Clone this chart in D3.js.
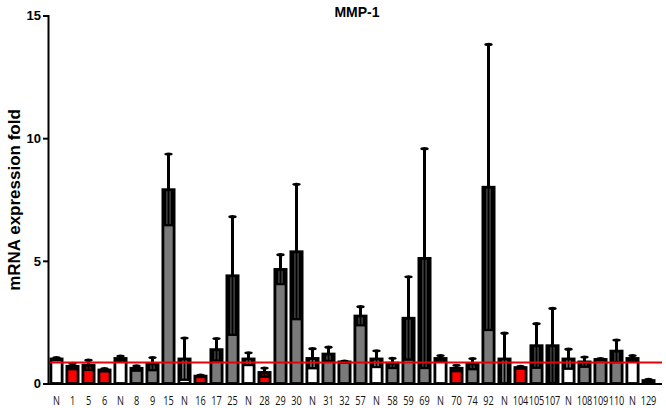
<!DOCTYPE html>
<html>
<head>
<meta charset="utf-8">
<script src="https://cdn.jsdelivr.net/npm/d3@7"></script>
<style>
  body { margin: 0; background: #fff; }
  svg { display: block; }
</style>
</head>
<body>
<div id="chart"></div>
<script>
// sample labels along x (N = normal control)
var labels = ["N","1","5","6","N","8","9","15","N","16","17","25","N","28","29","30","N","31","32","57",
              "N","58","59","69","N","70","74","92","N","104","105","107","N","108","109","110","N","129"];
// mean fold and SD
var means = [1.0,0.7,0.75,0.55,1.02,0.62,0.8,7.9,1.0,0.3,1.38,4.39,1.0,0.45,4.65,5.37,1.02,1.2,0.88,2.75,
             1.0,0.83,2.66,5.1,1.02,0.62,0.8,8.0,1.0,0.65,1.54,1.54,1.0,0.88,0.98,1.32,1.02,0.12];
var sds = [0.06,0.12,0.2,0.06,0.1,0.1,0.26,1.45,0.85,0.04,0.45,2.41,0.25,0.18,0.6,2.75,0.4,0.28,0.03,0.38,
           0.33,0.2,1.69,4.47,0.12,0.12,0.22,5.82,1.05,0.05,0.9,1.52,0.4,0.2,0.04,0.45,0.12,0.05];
// ctrl = normal, low = below cutoff, high = above
var groups = ["ctrl","low","low","low","ctrl","high","high","high","ctrl","low","high","high","ctrl","low","high","high",
              "ctrl","high","high","high","ctrl","high","high","high","ctrl","low","high","high","ctrl","low","high","high",
              "ctrl","high","high","high","ctrl","high"];
var yTicks = [0, 5, 10, 15];
var cutoff = 0.86;

var width = 666, height = 408;
var svg = d3.select("#chart").append("svg")
    .attr("width", width)
    .attr("height", height);

var x = d3.scaleBand()
    .domain(d3.range(labels.length))
    .range([48.5, 656.5])
    .paddingInner(0.3)
    .paddingOuter(0.15);

var y = d3.scaleLinear()
    .domain([0, 15])
    .range([383.5, 15.5]);

var color = d3.scaleOrdinal()
    .domain(["ctrl","low","high"])
    .range(["#ffffff","#ff0000","#7a7a7a"]);

var data = labels.map(function(l, i){
    return {i: i, label: l, mean: means[i], sd: sds[i], group: groups[i]};
});

var bw = x.bandwidth();
var bars = svg.append("g").selectAll("g")
    .data(data)
    .enter()
    .append("g");

// bar body
bars.append("rect")
    .attr("x", d => x(d.i))
    .attr("y", d => y(d.mean))
    .attr("width", bw)
    .attr("height", d => y(0) - y(d.mean))
    .attr("fill", d => color(d.group))
    .attr("stroke", "#000")
    .attr("stroke-width", 2.8);

// lower error part drawn inside the bar (black with thin gaps)
bars.append("rect")
    .attr("x", d => x(d.i))
    .attr("y", d => y(d.mean))
    .attr("width", bw)
    .attr("height", d => y(Math.max(0, d.mean - d.sd)) - y(d.mean))
    .attr("fill", "#000");

[0.36, 0.64].forEach(function(f){
    bars.append("rect")
        .attr("x", d => x(d.i) + bw * f - 0.5)
        .attr("y", d => y(d.mean) + 1.5)
        .attr("width", 1)
        .attr("height", d => Math.max(0, y(Math.max(0, d.mean - d.sd)) - y(d.mean) - 2.5))
        .attr("fill", d => d.group === "ctrl" ? "#e8e8e8" : color(d.group))
        .attr("opacity", 0.8);
});

// lower cap
bars.append("line")
    .attr("x1", d => x(d.i) + 1)
    .attr("x2", d => x(d.i) + bw - 1)
    .attr("y1", d => y(Math.max(0, d.mean - d.sd)))
    .attr("y2", d => y(Math.max(0, d.mean - d.sd)))
    .attr("stroke", "#000")
    .attr("stroke-width", 2.2);

// upper error whisker
bars.append("line")
    .attr("x1", d => x(d.i) + bw / 2)
    .attr("x2", d => x(d.i) + bw / 2)
    .attr("y1", d => y(d.mean))
    .attr("y2", d => y(d.mean + d.sd))
    .attr("stroke", "#000")
    .attr("stroke-width", 3);

bars.append("ellipse")
    .attr("cx", d => x(d.i) + bw / 2)
    .attr("cy", d => y(d.mean + d.sd))
    .attr("rx", 4.2)
    .attr("ry", 1.6)
    .attr("fill", "#000");

// cutoff line
svg.append("line")
    .attr("x1", 48)
    .attr("x2", 662)
    .attr("y1", y(cutoff))
    .attr("y2", y(cutoff))
    .attr("stroke", "#e8000b")
    .attr("stroke-width", 2);

// axes
var yAxis = d3.axisLeft(y).tickValues(yTicks).tickSize(5).tickPadding(2);
var gy = svg.append("g")
    .attr("transform", "translate(48,0)")
    .call(yAxis);
gy.select(".domain").attr("stroke-width", 2);
gy.selectAll(".tick line").attr("stroke-width", 2);
gy.selectAll("text")
    .style("font-family", "Liberation Sans, Arial, sans-serif")
    .style("font-weight", "bold")
    .style("font-size", "13px")
    .attr("fill", "#000");

svg.append("line")
    .attr("x1", 47)
    .attr("x2", 662)
    .attr("y1", 384)
    .attr("y2", 384)
    .attr("stroke", "#000")
    .attr("stroke-width", 2.2);

// narrow category labels (squeezed horizontally)
svg.append("g").selectAll("text")
    .data(data)
    .enter()
    .append("text")
    .attr("transform", d => "translate(" + (x(d.i) + bw / 2) + ",404.5) scale(0.68,1)")
    .attr("text-anchor", "middle")
    .text(d => d.label)
    .style("font-family", "Open Sans, sans-serif")
    .style("font-size", "13.5px")
    .style("fill", "#111");

// title and y label
svg.append("text")
    .attr("x", 357)
    .attr("y", 17)
    .attr("text-anchor", "middle")
    .text("MMP-1")
    .style("font-family", "Liberation Sans, Arial, sans-serif")
    .style("font-weight", "bold")
    .style("font-size", "14px");

svg.append("text")
    .attr("transform", "translate(20,200) rotate(-90)")
    .attr("text-anchor", "middle")
    .text("mRNA expression fold")
    .style("font-family", "Liberation Sans, Arial, sans-serif")
    .style("font-weight", "bold")
    .style("font-size", "17px");
</script>
</body>
</html>
